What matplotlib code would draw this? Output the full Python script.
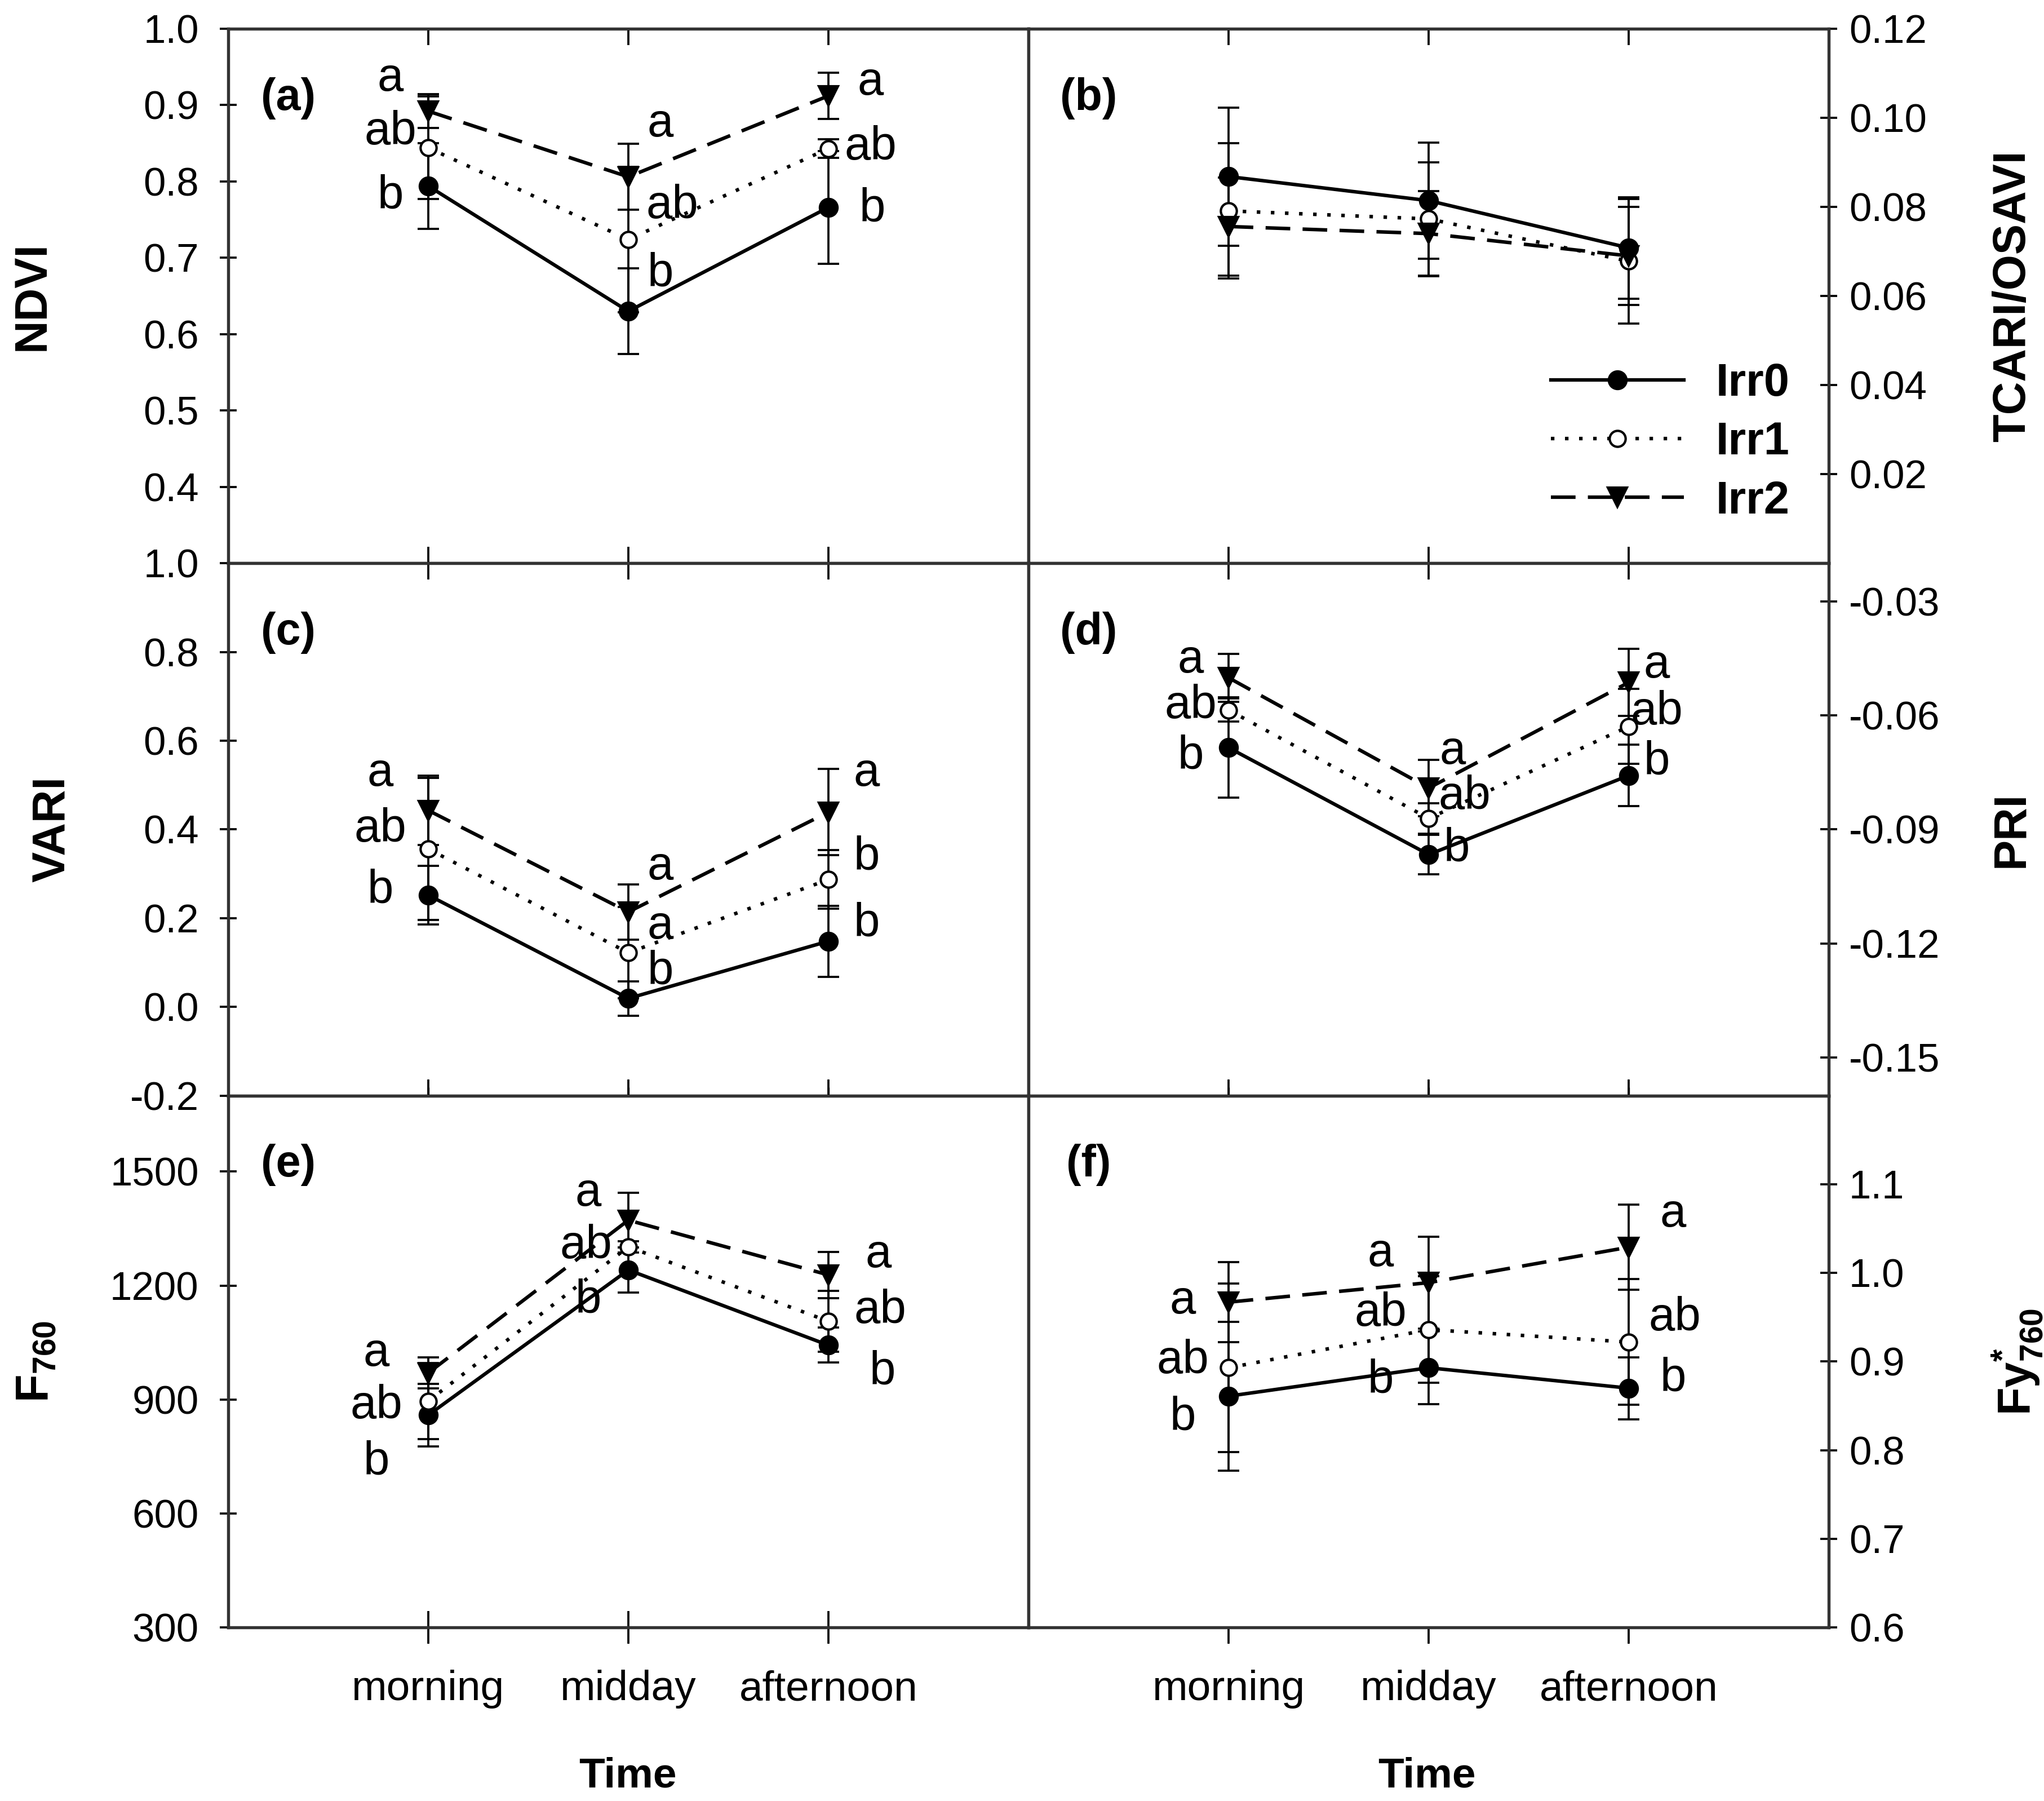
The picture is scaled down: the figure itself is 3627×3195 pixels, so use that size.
import matplotlib.pyplot as plt
import numpy as np

plt.rcParams['font.family'] = ['Liberation Sans', 'DejaVu Sans']
plt.rcParams['axes.unicode_minus'] = False
plt.rcParams['mathtext.fontset'] = 'custom'
plt.rcParams['mathtext.rm'] = 'Liberation Sans'
plt.rcParams['mathtext.bf'] = 'Liberation Sans:bold'

times = ['morning', 'midday', 'afternoon']
groups = ['Irr0', 'Irr1', 'Irr2']

# means / errors, one row per group (Irr0, Irr1, Irr2), columns = times
ndvi_mean = [[0.794, 0.630, 0.766], [0.844, 0.724, 0.843], [0.892, 0.806, 0.912]]
ndvi_err = [[0.056, 0.056, 0.074], [0.067, 0.095, 0.012], [0.022, 0.043, 0.030]]
ndvi_letters = [['b', 'b', 'b'], ['ab', 'ab', 'ab'], ['a', 'a', 'a']]

tcari_mean = [[0.0868, 0.0814, 0.0708], [0.0791, 0.0773, 0.0678], [0.0756, 0.0740, 0.0690]]
tcari_err = [[0.0155, 0.0130, 0.0114], [0.0152, 0.0127, 0.0140], [0.0110, 0.0096, 0.0110]]

vari_mean = [[0.252, 0.019, 0.148], [0.356, 0.122, 0.287], [0.443, 0.214, 0.439]]
vari_err = [[0.066, 0.039, 0.080], [0.160, 0.103, 0.066], [0.078, 0.062, 0.097]]
vari_letters = [['b', 'b', 'b'], ['ab', 'a', 'b'], ['a', 'a', 'a']]

pri_mean = [[-0.0685, -0.0966, -0.0758], [-0.0586, -0.0871, -0.0629], [-0.0501, -0.0791, -0.0513]]
pri_err = [[0.0132, 0.0052, 0.0081], [0.0030, 0.0040, 0.0099], [0.0063, 0.0074, 0.0088]]
pri_letters = [['b', 'b', 'b'], ['ab', 'ab', 'ab'], ['a', 'a', 'a']]

f760_mean = [[859, 1241, 1043], [896, 1302, 1106], [970, 1372, 1228]]
f760_err = [[83, 60, 46], [100, 15, 80], [41, 72, 61]]
f760_letters = [['b', 'b', 'b'], ['ab', 'ab', 'ab'], ['a', 'a', 'a']]

fy_mean = [[0.861, 0.893, 0.870], [0.893, 0.936, 0.922], [0.967, 0.989, 1.029]]
fy_err = [[0.084, 0.041, 0.035], [0.095, 0.060, 0.071], [0.045, 0.052, 0.048]]
fy_letters = [['b', 'b', 'b'], ['ab', 'ab', 'ab'], ['a', 'a', 'a']]

# where the significance letters sit (x, y) for each group and time
ndvi_lpos = [[(0.81, 0.781), (2.16, 0.679), (3.22, 0.764)],
             [(0.81, 0.865), (2.22, 0.768), (3.21, 0.845)],
             [(0.81, 0.935), (2.16, 0.875), (3.21, 0.930)]]
vari_lpos = [[(0.76, 0.262), (2.16, 0.079), (3.19, 0.188)],
             [(0.76, 0.400), (2.16, 0.182), (3.19, 0.338)],
             [(0.76, 0.526), (2.16, 0.315), (3.19, 0.526)]]
pri_lpos = [[(0.81, -0.0708), (2.14, -0.0951), (3.14, -0.0722)],
            [(0.81, -0.0574), (2.18, -0.0814), (3.14, -0.0591)],
            [(0.81, -0.0454), (2.12, -0.0694), (3.14, -0.0468)]]
f760_lpos = [[(0.74, 736), (1.80, 1161), (3.27, 973)],
             [(0.74, 883), (1.79, 1305), (3.26, 1134)],
             [(0.74, 1021), (1.80, 1443), (3.25, 1281)]]
fy_lpos = [[(0.77, 0.837), (1.76, 0.879), (3.22, 0.881)],
           [(0.77, 0.901), (1.76, 0.954), (3.23, 0.949)],
           [(0.77, 0.968), (1.76, 1.022), (3.22, 1.066)]]

styles = [dict(ls='-', marker='o', mfc='black', ms=7.5),
          dict(ls=(0, (1, 3)), marker='o', mfc='white', ms=6.8),
          dict(ls=(0, (7, 3.5)), marker='v', mfc='black', ms=8)]

x = np.arange(1, 4)

fig = plt.figure(figsize=(3627 / 300, 3195 / 300), dpi=300)

left, mid, right = 0.1116, 0.5032, 0.8948
rows = [0.9841, 0.6872, 0.3917, 0.0963]
w = mid - left


def make_axes(col, row):
    x0 = left if col == 0 else mid
    return fig.add_axes([x0, rows[row + 1], w, rows[row] - rows[row + 1]])


def panel(ax, mean, err, letters, lpos, ylim, yticks, fmt, side, tag, bottom):
    handles = []
    for g in range(3):
        ax.errorbar(x, mean[g], yerr=err[g], fmt='none', ecolor='black',
                    elinewidth=0.9, capsize=4.5, capthick=0.9, zorder=2)
        st = styles[g]
        h, = ax.plot(x, mean[g], color='black', lw=1.5, ls=st['ls'],
                     marker=st['marker'], mfc=st['mfc'], mec='black',
                     mew=1.0, ms=st['ms'], zorder=3, label=groups[g])
        handles.append(h)
        if letters is not None:
            for t in range(3):
                lx, ly = lpos[g][t]
                ax.text(lx, ly, letters[g][t], fontsize=20, ha='center',
                        va='center', zorder=4)
    ax.set_xlim(0, 4)
    ax.set_ylim(*ylim)
    ax.set_yticks(yticks)
    ax.set_yticklabels([fmt % v for v in yticks])
    ax.set_xticks(x)
    for s in ax.spines.values():
        s.set_linewidth(1.3)
        s.set_color('#333333')
    if side == 'right':
        ax.yaxis.tick_right()
        ax.tick_params(axis='y', which='both', left=False, right=True,
                       labelleft=False, labelright=True)
        ax.tick_params(axis='y', direction='inout', length=7, width=0.9,
                       labelsize=17, pad=5)
    else:
        ax.tick_params(axis='y', direction='inout', length=7, width=0.9,
                       labelsize=17, pad=9)
    ax.tick_params(axis='x', top=True, bottom=True, direction='in',
                   length=7, width=0.9)
    if bottom:
        ax.set_xticklabels(times)
        ax.tick_params(axis='x', labelsize=18, pad=11)
        ax.tick_params(axis='x', which='major', bottom=True, top=False,
                       direction='inout' if side == 'left' else 'out',
                       length=14 if side == 'left' else 7)
        ax.secondary_xaxis('top').set_xticks(x, labels=[])
    else:
        ax.set_xticklabels([])
    ax.text(0.075, 0.87, tag, transform=ax.transAxes, fontsize=19,
            fontweight='bold', ha='center', va='center')
    return handles


ax_a = make_axes(0, 0)
panel(ax_a, ndvi_mean, ndvi_err, ndvi_letters, ndvi_lpos, (0.3, 1.0),
      [0.4, 0.5, 0.6, 0.7, 0.8, 0.9, 1.0], '%.1f', 'left', '(a)', False)

ax_b = make_axes(1, 0)
hb = panel(ax_b, tcari_mean, tcari_err, None, None, (0.0, 0.12),
           [0.02, 0.04, 0.06, 0.08, 0.10, 0.12], '%.2f', 'right', '(b)', False)
ax_b.legend(handles=hb, loc='upper left', bbox_to_anchor=(0.63, 0.41),
            frameon=False, handlelength=2.9, handletextpad=0.7,
            labelspacing=0.35, borderaxespad=0,
            prop={'size': 19.5, 'weight': 'bold'})

ax_c = make_axes(0, 1)
panel(ax_c, vari_mean, vari_err, vari_letters, vari_lpos, (-0.2, 1.0),
      [-0.2, 0.0, 0.2, 0.4, 0.6, 0.8, 1.0], '%.1f', 'left', '(c)', False)

ax_d = make_axes(1, 1)
panel(ax_d, pri_mean, pri_err, pri_letters, pri_lpos, (-0.16, -0.02),
      [-0.15, -0.12, -0.09, -0.06, -0.03], '%.2f', 'right', '(d)', False)

ax_e = make_axes(0, 2)
panel(ax_e, f760_mean, f760_err, f760_letters, f760_lpos, (300, 1700),
      [300, 600, 900, 1200, 1500], '%d', 'left', '(e)', True)

ax_f = make_axes(1, 2)
panel(ax_f, fy_mean, fy_err, fy_letters, fy_lpos, (0.6, 1.2),
      [0.6, 0.7, 0.8, 0.9, 1.0, 1.1], '%.1f', 'right', '(f)', True)

lab = dict(fontsize=19.5, fontweight='bold', rotation=90, ha='center', va='center')
fig.text(0.016, (rows[0] + rows[1]) / 2, 'NDVI', **lab)
fig.text(0.026, (rows[1] + rows[2]) / 2, 'VARI', **lab)
fig.text(0.018, (rows[2] + rows[3]) / 2, r'$\mathbf{F}_{\mathbf{760}}$', **lab)
fig.text(0.985, (rows[0] + rows[1]) / 2, 'TCARI/OSAVI', **lab)
fig.text(0.984, (rows[1] + rows[2]) / 2, 'PRI', **lab)
fig.text(0.987, (rows[2] + rows[3]) / 2, r'$\mathbf{Fy}^{\mathbf{*}}_{\mathbf{760}}$', **lab)

fig.text(0.307, 0.0138, 'Time', fontsize=18, fontweight='bold', ha='center', va='center')
fig.text(0.698, 0.0138, 'Time', fontsize=18, fontweight='bold', ha='center', va='center')

fig.savefig('out.png', dpi=300)
